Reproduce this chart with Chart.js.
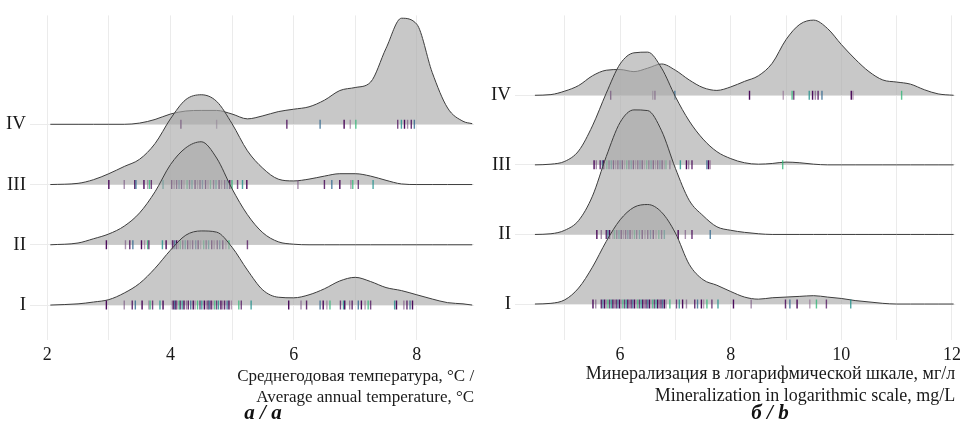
<!DOCTYPE html>
<html lang="ru">
<head>
<meta charset="UTF-8">
<title>Ridgeline: температура и минерализация</title>
<script src="https://cdn.jsdelivr.net/npm/chart.js"></script>
<style>
    body { margin: 0; background: #fff; }
    .wrap { position: relative; width: 965px; height: 426px; }
    #tempChart { position: absolute; left: 0; top: 0; }
    #minChart { position: absolute; left: 480px; top: 0; }
    .caption {
        position: absolute;
        top: 400px;
        font: italic bold 21px 'Liberation Serif', 'Times New Roman', serif;
        color: #111;
        transform: translateX(-50%);
        white-space: nowrap;
    }
</style>
</head>
<body>
<div class="wrap">
    <canvas id="tempChart" width="480" height="426"></canvas>
    <canvas id="minChart" width="485" height="426"></canvas>
    <div class="caption" style="left:263px">а / a</div>
    <div class="caption" style="left:770px">б / b</div>
</div>

<script>
// groups (rows, bottom to top)
const groups = ['I', 'II', 'III', 'IV'];
const groupPos = [1, 2, 3, 4];

// --- panel a: mean annual temperature ---
const tempX = [2.05, 2.5, 2.75, 3, 3.25, 3.5, 3.75, 4, 4.25, 4.5, 4.75, 5, 5.25, 5.5, 5.75,
               6, 6.25, 6.5, 6.75, 7, 7.25, 7.5, 7.75, 8, 8.25, 8.5, 8.75, 8.9];
// ridge heights (in row units)
const tempI   = [0, 0.02, 0.05, 0.09, 0.20, 0.36, 0.61, 0.91, 1.16, 1.23, 1.21, 0.96, 0.58, 0.25, 0.13,
                 0.12, 0.17, 0.27, 0.40, 0.46, 0.39, 0.29, 0.24, 0.17, 0.10, 0.04, 0.02, 0];
const tempII  = [0, 0.03, 0.10, 0.18, 0.31, 0.53, 0.88, 1.33, 1.61, 1.71, 1.44, 0.93, 0.50, 0.20, 0.05,
                 0.01, 0, 0, 0, 0, 0, 0, 0, 0, 0, 0, 0, 0];
const tempIII = [0, 0.02, 0.08, 0.18, 0.30, 0.42, 0.68, 1.09, 1.41, 1.49, 1.38, 1.01, 0.56, 0.27, 0.09,
                 0.06, 0.09, 0.14, 0.18, 0.18, 0.14, 0.07, 0.01, 0, 0, 0, 0, 0];
const tempIV  = [0, 0, 0, 0, 0, 0.02, 0.08, 0.17, 0.22, 0.23, 0.23, 0.17, 0.09, 0.14, 0.21,
                 0.25, 0.29, 0.40, 0.56, 0.61, 0.70, 1.26, 1.76, 1.66, 0.86, 0.27, 0.05, 0.01];
// observations (rug)
const tempRugI = [2.96, 3.25, 3.38, 3.43, 3.54, 3.65, 3.67, 3.71, 3.83, 3.88, 4.03, 4.05, 4.07, 4.09, 4.11,
    4.14, 4.16, 4.19, 4.22, 4.26, 4.29, 4.33, 4.37, 4.4, 4.44, 4.48, 4.51, 4.55, 4.58, 4.61, 4.63, 4.66,
    4.69, 4.72, 4.75, 4.78, 4.82, 4.85, 4.88, 4.92, 4.95, 4.99, 5.11, 5.15, 5.31, 5.92, 6.12, 6.21, 6.43,
    6.48, 6.54, 6.59, 6.76, 6.81, 6.83, 6.91, 6.95, 7.05, 7.1, 7.16, 7.21, 7.25, 7.64, 7.67, 7.79, 7.84,
    7.89, 7.93];
const tempRugII = [2.96, 3.27, 3.34, 3.39, 3.53, 3.58, 3.63, 3.65, 3.87, 3.93, 4.03, 4.04, 4.07, 4.1, 4.13,
    4.16, 4.2, 4.24, 4.28, 4.32, 4.36, 4.41, 4.45, 4.49, 4.54, 4.58, 4.62, 4.67, 4.71, 4.76, 4.8, 4.85,
    4.9, 4.95, 5.25];
const tempRugIII = [3.0, 3.25, 3.42, 3.44, 3.57, 3.63, 3.66, 3.69, 3.88, 4.02, 4.06, 4.1, 4.14, 4.18, 4.22,
    4.27, 4.31, 4.35, 4.4, 4.44, 4.48, 4.52, 4.57, 4.61, 4.65, 4.7, 4.74, 4.79, 4.83, 4.88, 4.92, 4.96,
    4.98, 5.0, 5.09, 5.17, 5.24, 6.07, 6.5, 6.62, 6.75, 6.93, 6.96, 7.05, 7.29];
const tempRugIV = [4.17, 4.75, 5.89, 6.43, 6.82, 6.92, 7.01, 7.69, 7.75, 7.8, 7.85, 7.91, 7.96];
const tempGrid = [2, 3, 4, 5, 6, 7, 8];
const tempLabels = [2, 4, 6, 8];

// --- panel b: mineralization (log scale) ---
const minX = [4.46, 4.75, 5, 5.25, 5.5, 5.75, 6, 6.25, 6.5, 6.75, 7, 7.25, 7.5, 7.75, 8, 8.25,
              8.5, 8.75, 9, 9.25, 9.5, 9.75, 10, 10.25, 10.5, 10.75, 11, 11.25, 11.5, 11.75, 12.03];
const minI   = [0, 0.01, 0.06, 0.23, 0.53, 0.90, 1.21, 1.39, 1.43, 1.32, 1.02, 0.57, 0.35, 0.27, 0.18, 0.10,
                0.07, 0.09, 0.10, 0.11, 0.12, 0.10, 0.08, 0.05, 0.03, 0.01, 0, 0, 0, 0, 0];
const minII  = [0, 0.01, 0.06, 0.20, 0.55, 1.12, 1.61, 1.79, 1.78, 1.49, 0.95, 0.49, 0.27, 0.11, 0.06, 0.03,
                0.01, 0, 0, 0, 0, 0, 0, 0, 0, 0, 0, 0, 0, 0, 0];
const minIII = [0, 0.01, 0.05, 0.20, 0.56, 1.03, 1.45, 1.61, 1.62, 1.39, 0.98, 0.63, 0.37, 0.19, 0.09, 0.03,
                0.01, 0.02, 0.04, 0.03, 0.01, 0, 0, 0, 0, 0, 0, 0, 0, 0, 0];
const minIV  = [0, 0.01, 0.06, 0.14, 0.28, 0.36, 0.37, 0.34, 0.39, 0.45, 0.36, 0.22, 0.11, 0.07, 0.12, 0.20,
                0.28, 0.46, 0.80, 1.02, 1.08, 0.96, 0.73, 0.52, 0.34, 0.22, 0.19, 0.16, 0.08, 0.02, 0];
const minRugI = [5.51, 5.56, 5.66, 5.69, 5.72, 5.75, 5.78, 5.81, 5.84, 5.87, 5.9, 5.93, 5.96, 5.99, 6.02,
    6.05, 6.08, 6.11, 6.14, 6.17, 6.2, 6.23, 6.26, 6.29, 6.32, 6.35, 6.38, 6.41, 6.44, 6.47, 6.5, 6.53,
    6.56, 6.59, 6.62, 6.65, 6.68, 6.71, 6.74, 6.77, 6.8, 6.83, 6.9, 7.02, 7.07, 7.13, 7.2, 7.35, 7.4,
    7.47, 7.51, 7.57, 7.66, 7.77, 8.05, 8.37, 8.99, 9.07, 9.2, 9.43, 9.55, 9.73, 10.17];
const minRugII = [5.58, 5.66, 5.75, 5.78, 5.81, 5.87, 5.9, 5.94, 5.98, 6.02, 6.06, 6.1, 6.14, 6.18, 6.22,
    6.26, 6.3, 6.35, 6.4, 6.45, 6.5, 6.55, 6.6, 6.65, 6.7, 6.75, 6.8, 7.05, 7.18, 7.3, 7.63];
const minRugIII = [5.53, 5.57, 5.64, 5.68, 5.7, 5.72, 5.76, 5.8, 5.84, 5.88, 5.92, 5.96, 6.0, 6.04, 6.08,
    6.12, 6.16, 6.2, 6.24, 6.28, 6.32, 6.36, 6.4, 6.44, 6.48, 6.52, 6.56, 6.6, 6.64, 6.68, 6.72, 6.76,
    6.8, 6.83, 6.9, 7.09, 7.2, 7.24, 7.3, 7.57, 7.6, 7.63, 8.94];
const minRugIV = [5.83, 6.59, 6.63, 6.99, 8.34, 8.95, 9.11, 9.14, 9.42, 9.48, 9.53, 9.58, 9.65, 10.18,
    10.21, 11.09];
const minGrid = [5, 6, 7, 8, 9, 10, 11, 12];
const minLabels = [6, 8, 10, 12];

// styles
const serif = "'Liberation Serif', 'Times New Roman', serif";
const textColor = '#1a1a1a';
const gridColor = '#ebebeb';
const rugColors = ['rgba(68,1,84,0.95)', 'rgba(110,70,120,0.6)', 'rgba(68,1,84,0.8)', 'rgba(49,104,142,0.8)',
                   'rgba(68,1,84,0.95)', 'rgba(140,100,140,0.6)', 'rgba(53,183,121,0.8)', 'rgba(68,1,84,0.7)',
                   'rgba(33,145,140,0.8)'];

function ridgeDatasets(xs, dens, rugs) {
    var out = [];
    dens.forEach(function (d, k) {
        var base = groupPos[k];
        // ridge: filled down to the row baseline
        out.push({
            data: xs.map(function (x, i) { return {x: x, y: base + d[i]}; }),
            fill: {value: base},
            backgroundColor: 'rgba(169,169,169,0.64)',
            borderColor: '#3d3d3d',
            borderWidth: 1,
            pointRadius: 0,
            cubicInterpolationMode: 'monotone',
            clip: false,
            order: 2 * base
        });
        // rug ticks on the baseline
        out.push({
            data: rugs[k].map(function (x) { return {x: x, y: base}; }),
            showLine: false,
            fill: false,
            pointStyle: 'line',
            pointRotation: 90,
            pointRadius: 4.5,
            pointBorderWidth: 1.4,
            pointBorderColor: function (ctx) { return rugColors[ctx.dataIndex % rugColors.length]; },
            order: 2 * base - 1
        });
    });
    return out;
}

function ridgeChart(id, o) {
    return new Chart(document.getElementById(id), {
        type: 'line',
        data: { datasets: ridgeDatasets(o.xs, o.dens, o.rugs) },
        options: {
            responsive: false,
            animation: false,
            events: [],
            layout: { padding: { top: 15, right: o.padRight, bottom: 18, left: 0 } },
            plugins: { legend: { display: false }, tooltip: { enabled: false } },
            scales: {
                x: {
                    type: 'linear',
                    min: o.xMin,
                    max: o.xMax,
                    afterBuildTicks: function (s) { s.ticks = o.grid.map(function (v) { return {value: v}; }); },
                    afterFit: function (s) { s.height = 68; },
                    grid: { color: gridColor, drawTicks: false },
                    border: { display: false },
                    ticks: {
                        padding: 4, color: textColor, autoSkip: false, maxRotation: 0,
                        font: { family: serif, size: 18 },
                        callback: function (v) { return o.labels.indexOf(v) >= 0 ? String(v) : ''; }
                    },
                    title: {
                        display: true, text: o.title, align: 'end', color: textColor, padding: 0,
                        font: { family: serif, size: o.titleSize, lineHeight: 1.25 }
                    }
                },
                y: {
                    type: 'linear',
                    min: o.yMin,
                    max: o.yMax,
                    afterBuildTicks: function (s) { s.ticks = groupPos.map(function (v) { return {value: v}; }); },
                    afterFit: function (s) { s.width = o.yWidth; },
                    grid: { color: gridColor, drawTicks: false },
                    border: { display: false },
                    ticks: {
                        padding: 4, color: textColor,
                        font: { family: serif, size: 19 },
                        callback: function (v) { return groups[v - 1]; }
                    }
                }
            }
        }
    });
}

ridgeChart('tempChart', {
    xs: tempX,
    dens: [tempI, tempII, tempIII, tempIV],
    rugs: [tempRugI, tempRugII, tempRugIII, tempRugIV],
    grid: tempGrid, labels: tempLabels,
    xMin: 1.72, xMax: 8.93, yMin: 0.42, yMax: 5.807,
    yWidth: 30, padRight: 3, titleSize: 17,
    title: ['Среднегодовая температура, °C /', 'Average annual temperature, °C']
});

ridgeChart('minChart', {
    xs: minX,
    dens: [minI, minII, minIII, minIV],
    rugs: [minRugI, minRugII, minRugIII, minRugIV],
    grid: minGrid, labels: minLabels,
    xMin: 4.10, xMax: 12.06, yMin: 0.483, yMax: 5.148,
    yWidth: 35, padRight: 7, titleSize: 18,
    title: ['Минерализация в логарифмической шкале, мг/л', 'Mineralization in logarithmic scale, mg/L']
});
</script>
</body>
</html>
